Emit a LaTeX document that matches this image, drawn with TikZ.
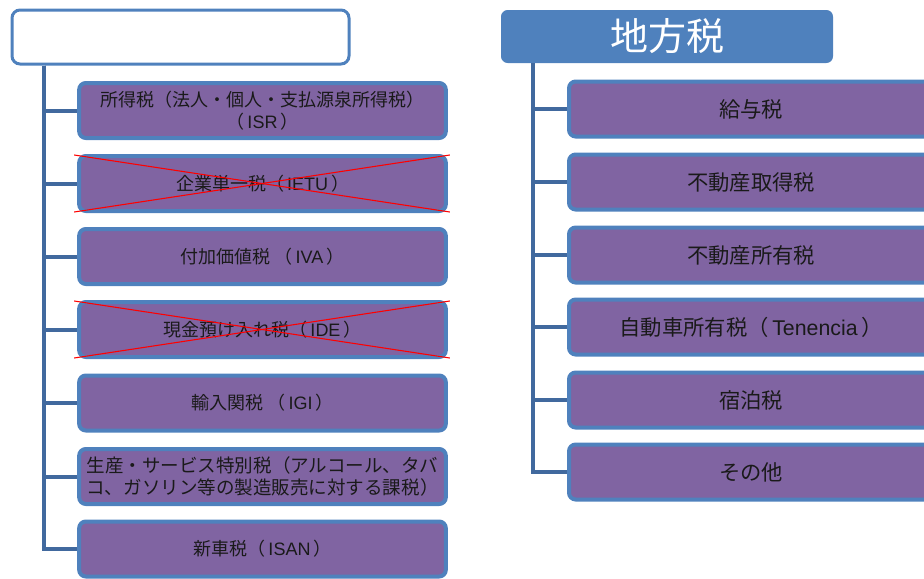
\documentclass[tikz,border=0pt]{standalone}
\usepackage{fontspec}
\setmainfont{Liberation Sans}
\newfontfamily\jp{Noto Sans CJK JP}
\definecolor{boxfill}{HTML}{8064A2}
\definecolor{boxline}{HTML}{4F81BD}
\definecolor{conn}{HTML}{41699E}
\definecolor{txt}{HTML}{1A1A1A}
\tikzset{
  item/.style={draw=boxline, line width=3pt, fill=boxfill, rounded corners=5pt,
    minimum height=41.25pt, inner sep=0pt, align=center, text=txt,
    font=\fontsize{13.5}{16.5}\selectfont},
  itemL/.style={item, minimum width=275pt},
  itemR/.style={item, minimum width=273pt, anchor=west, font=\fontsize{16}{19}\selectfont},
  conline/.style={draw=conn, line width=3pt},
  xline/.style={draw=red, line width=0.8pt}
}
\begin{document}
\begin{tikzpicture}[x=0.75pt,y=-0.75pt]
\useasboundingbox (0,0) rectangle (924,578);
\clip (0,0) rectangle (924,578);
% headers
\node[draw=boxline, line width=2.25pt, fill=white, rounded corners=6pt,
  minimum width=252.75pt, minimum height=40.5pt, inner sep=0pt] (lh) at (180.5,37) {};
\node[fill=boxline, rounded corners=5pt, minimum width=249pt, minimum height=39.75pt,
  inner sep=0pt, text=white, font=\jp\fontsize{28.5}{31}\selectfont] (rh) at (667,36.5) {地方税};
% trunk coordinates
\coordinate (tl) at (44,0);
\coordinate (tr) at (533,0);
% left boxes
\node[itemL] (b1) at (262.5,110.5) {{\jp 所得税（法人・個人・支払源泉所得税）}\\{\jp （}\,ISR\,{\jp ）}};
\node[itemL] (b2) at (262.5,183.5) {{\jp 企業単一税（}\,IETU\,{\jp ）}};
\node[itemL] (b3) at (262.5,256.5) {{\jp 付加価値税 （}\,IVA\,{\jp ）}};
\node[itemL] (b4) at (262.5,329.5) {{\jp 現金預け入れ税（}\,IDE\,{\jp ）}};
\node[itemL] (b5) at (262.5,403) {{\jp 輸入関税 （}\,IGI\,{\jp ）}};
\node[itemL, font=\jp\fontsize{13.9}{17}\selectfont] (b6) at (262.5,476.5) {生産・サービス特別税（アルコール、タバ\\コ、ガソリン等の製造販売に対する課税）};
\node[itemL] (b7) at (262.5,549) {{\jp 新車税（}\,ISAN\,{\jp ）}};
% right boxes
\node[itemR] (r1) at (567,109) {{\jp 給与税}};
\node[itemR] (r2) at (567,182) {{\jp 不動産取得税}};
\node[itemR] (r3) at (567,255) {{\jp 不動産所有税}};
\node[itemR] (r4) at (567,327) {{\jp 自動車所有税（}\,Tenencia\,{\jp ）}};
\node[itemR] (r5) at (567,400) {{\jp 宿泊税}};
\node[itemR] (r6) at (567,472) {{\jp その他}};
% left connectors
\foreach \b in {b1,b2,b3,b4,b5,b6,b7}{
  \draw[conline] (lh.south -| tl) |- (\b.west);
}
\foreach \b in {r1,r2,r3,r4,r5,r6}{
  \draw[conline] (rh.south -| tr) |- (\b.west);
}
% crosses
\draw[xline] ([shift={(-2.25pt,-0.75pt)}]b2.north west) -- ([shift={(1.5pt,0.75pt)}]b2.south east);
\draw[xline] ([shift={(-2.25pt,0.75pt)}]b2.south west) -- ([shift={(1.5pt,-0.75pt)}]b2.north east);
\draw[xline] ([shift={(-2.25pt,-0.75pt)}]b4.north west) -- ([shift={(1.5pt,0.75pt)}]b4.south east);
\draw[xline] ([shift={(-2.25pt,0.75pt)}]b4.south west) -- ([shift={(1.5pt,-0.75pt)}]b4.north east);
\end{tikzpicture}
\end{document}
